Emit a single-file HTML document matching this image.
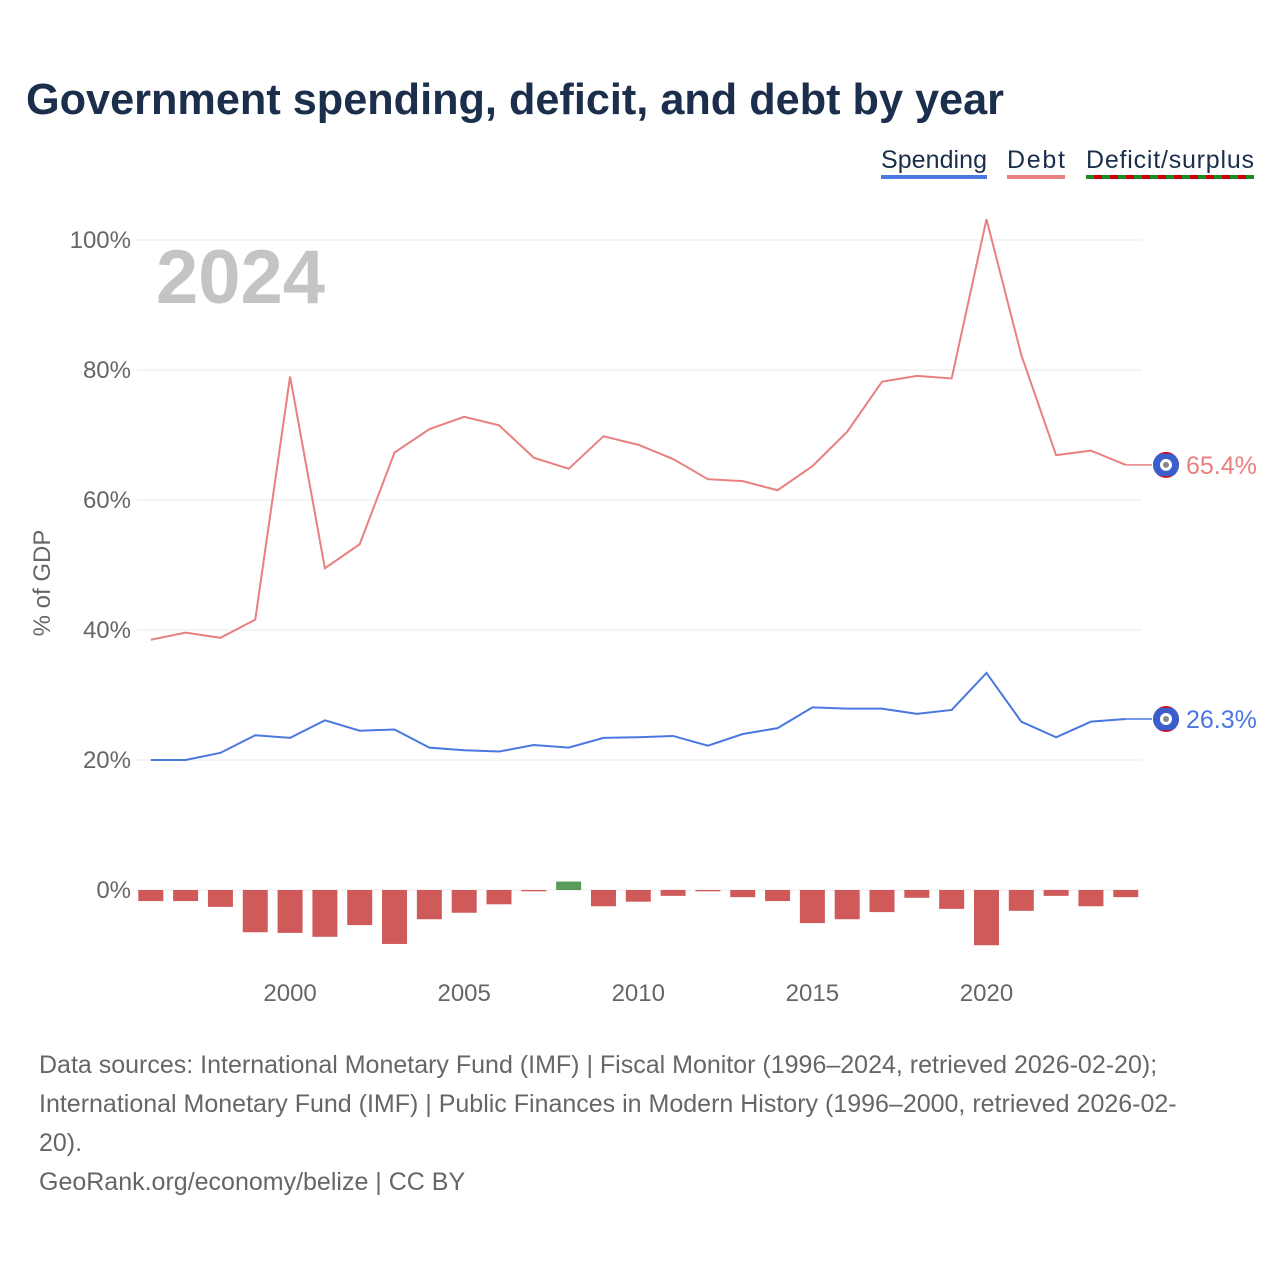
<!DOCTYPE html>
<html><head><meta charset="utf-8"><style>
body{margin:0;background:#fff;font-family:"Liberation Sans",sans-serif;}
#wrap{position:relative;width:1280px;height:1280px;overflow:hidden;}
</style></head><body>
<div id="wrap">
<svg id="chart" width="1280" height="1280">
<defs><clipPath id="cc1"><circle cx="1166" cy="0" r="13"/></clipPath></defs>
<text x="26" y="114" font-size="44" font-weight="bold" fill="#1b2e4b" textLength="978" lengthAdjust="spacingAndGlyphs">Government spending, deficit, and debt by year</text>
<g>
<g><text x="881" y="168" font-size="25" fill="#1b2e4b" textLength="106">Spending</text><rect x="881" y="175" width="106" height="4" fill="#4a78e0"/></g>
<g><text x="1007" y="168" font-size="25" fill="#1b2e4b" textLength="58">Debt</text><rect x="1007" y="175" width="58" height="4" fill="#e88080"/></g>
<g><text x="1086" y="168" font-size="25" fill="#1b2e4b" textLength="168">Deficit/surplus</text><rect x="1086" y="175" width="168" height="4" fill="#c00"/><line x1="1086" y1="177" x2="1254" y2="177" stroke="#1a8a2a" stroke-width="4" stroke-dasharray="8 8"/></g>
</g>
<text x="156" y="303" font-size="76" font-weight="bold" fill="#c4c4c4">2024</text>
<text transform="translate(50,583) rotate(-90)" text-anchor="middle" font-size="24" fill="#666">% of GDP</text>
<g id="grid"></g><g id="bars"></g><g id="lines"></g><g id="xt"></g><g id="ends"></g>
<g font-size="25" fill="#666">
<text x="39" y="1073">Data sources: International Monetary Fund (IMF) | Fiscal Monitor (1996–2024, retrieved 2026-02-20);</text>
<text x="39" y="1112">International Monetary Fund (IMF) | Public Finances in Modern History (1996–2000, retrieved 2026-02-</text>
<text x="39" y="1151">20).</text>
<text x="39" y="1190">GeoRank.org/economy/belize | CC BY</text>
</g>
</svg>
</div>
<script>
const years=[1996,1997,1998,1999,2000,2001,2002,2003,2004,2005,2006,2007,2008,2009,2010,2011,2012,2013,2014,2015,2016,2017,2018,2019,2020,2021,2022,2023,2024];
const debt=[38.5,39.6,38.8,41.6,79.0,49.5,53.2,67.3,70.9,72.8,71.5,66.5,64.8,69.8,68.5,66.3,63.2,62.9,61.5,65.2,70.5,78.2,79.1,78.7,103.2,82.3,66.9,67.6,65.4];
const spending=[20.0,20.0,21.1,23.8,23.4,26.1,24.5,24.7,21.9,21.5,21.3,22.3,21.9,23.4,23.5,23.7,22.2,24.0,24.9,28.1,27.9,27.9,27.1,27.7,33.4,25.9,23.5,25.9,26.3];
const deficit=[-1.7,-1.7,-2.6,-6.5,-6.6,-7.2,-5.4,-8.3,-4.5,-3.5,-2.2,-0.2,1.3,-2.5,-1.8,-0.9,-0.2,-1.1,-1.7,-5.1,-4.5,-3.4,-1.2,-2.9,-8.5,-3.2,-0.9,-2.5,-1.1];
const yTicks=[0,20,40,60,80,100];
const xTicks=[2000,2005,2010,2015,2020];
const NS="http://www.w3.org/2000/svg";
const X=y=>150.8+(y-1996)*34.82;
const Y=v=>890-v*6.5;
function mk(t,a,p){const e=document.createElementNS(NS,t);for(const k in a)e.setAttribute(k,a[k]);p.appendChild(e);return e;}
const grid=document.getElementById('grid');
yTicks.forEach(v=>{
 const l=mk('line',{x1:137,x2:1142,y1:Y(v),y2:Y(v),stroke:'#e8e8e8','stroke-width':1},grid);
 
 
 const t=mk('text',{x:131,y:Y(v)+8,'text-anchor':'end','font-size':24,fill:'#666'},grid);
 t.textContent=v+'%';
 
 
});
const xt=document.getElementById('xt');
xTicks.forEach(v=>{
 const t=mk('text',{x:X(v),y:1001,'text-anchor':'middle','font-size':24,fill:'#666'},xt);
 t.textContent=v;
 
 
});
const bars=document.getElementById('bars');
years.forEach((yr,i)=>{
 const v=deficit[i];const y0=Y(0),y1=Y(v);
 const r=mk('rect',{x:X(yr)-12.5,width:25,y:Math.min(y0,y1),height:Math.max(1,Math.abs(y1-y0)),fill:v>=0?'#5a9a5a':'#d05a5a'},bars);
 
 
});
const lines=document.getElementById('lines');
function line(arr,col,name){
 const p=mk('polyline',{points:years.map((yr,i)=>X(yr)+','+Y(arr[i])).join(' '),fill:'none',stroke:col,'stroke-width':2},lines);
 
 
}
line(debt,'#e88080','debt-line');
line(spending,'#4a78e0','spending-line');
const ends=document.getElementById('ends');
function end(arr,col,name){
 const v=arr[arr.length-1],y=Y(v);
 const g=mk('g',{},ends);
 
 
 mk('line',{x1:X(2024),x2:1152,y1:y,y2:y,stroke:col,'stroke-width':1.5},g);
 const f=mk('g',{transform:'translate(0,'+y+')','clip-path':'url(#cc1)'},g);
 mk('rect',{x:1150,y:-15,width:32,height:30,fill:'#c8102e'},f);
 mk('rect',{x:1150,y:-11,width:32,height:22,fill:'#3a5fcd'},f);
 mk('circle',{cx:1166,cy:y,r:6,fill:'#fff'},g);
 mk('circle',{cx:1166,cy:y,r:3,fill:'#888'},g);
 const t=mk('text',{x:1186,y:y+9,'font-size':25,fill:col},g);
 t.textContent=v.toFixed(1)+'%';
}
end(debt,'#e88080','debt-end-label');
end(spending,'#4a78e0','spending-end-label');
</script>
</body></html>
